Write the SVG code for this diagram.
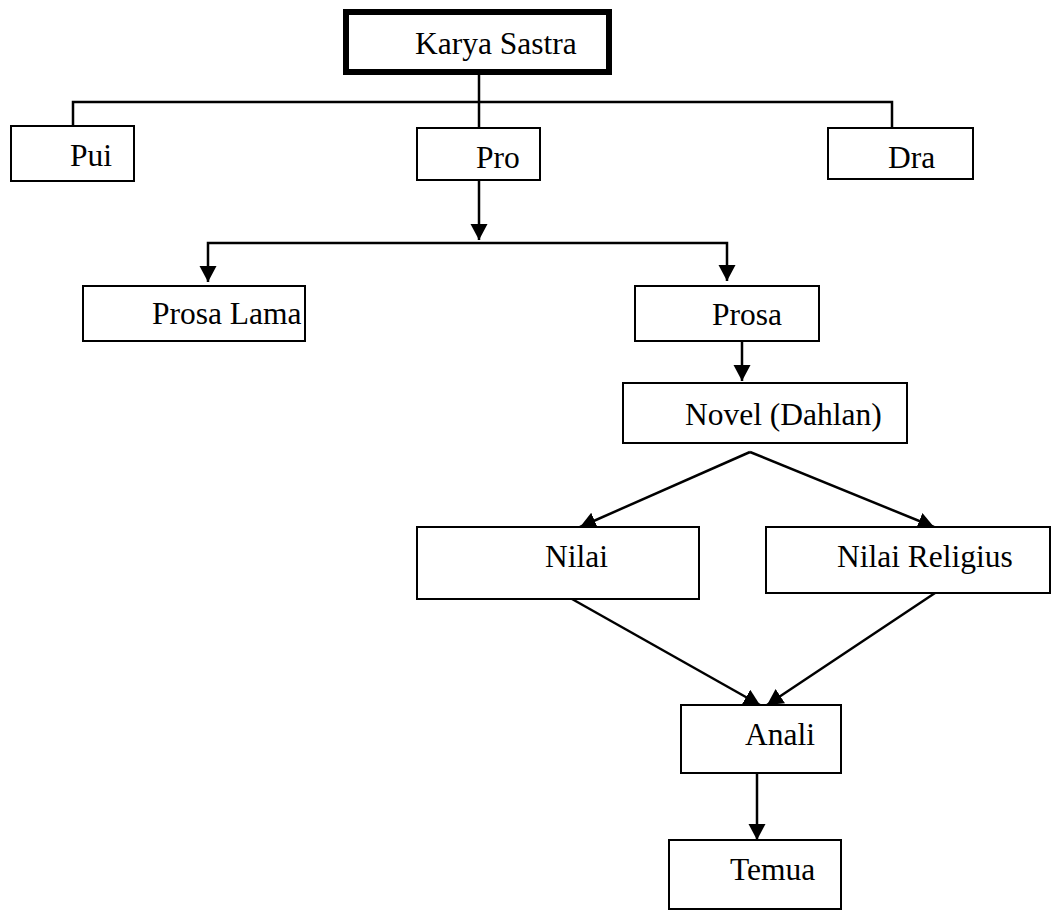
<svg xmlns="http://www.w3.org/2000/svg" width="1054" height="911" viewBox="0 0 1054 911">
<style>
.box{fill:#fff;stroke:#000;stroke-width:2}
.main{fill:#fff;stroke:#000;stroke-width:6}
.lbl{font-family:"Liberation Serif","Times New Roman",serif;font-size:31.5px;fill:#000}
.ln{fill:none;stroke:#000;stroke-width:2.5}
</style>
<defs>
<marker id="ah" markerUnits="userSpaceOnUse" markerWidth="18" markerHeight="18" refX="16" refY="8.5" orient="auto">
<path d="M0,0 L16,8.5 L0,17 Z" fill="#000"/>
</marker>
</defs>
<rect width="1054" height="911" fill="#fff"/>
<g id="connectors">
<line class="ln" x1="479" y1="74" x2="479" y2="128"/>
<polyline class="ln" points="73,126 73,102 892,102 892,128"/>
<line class="ln" x1="479" y1="180" x2="479" y2="240" marker-end="url(#ah)"/>
<polyline class="ln" points="479,243 208,243 208,282" marker-end="url(#ah)"/>
<polyline class="ln" points="479,243 727,243 727,281" marker-end="url(#ah)"/>
<line class="ln" x1="742" y1="341" x2="742" y2="381" marker-end="url(#ah)"/>
<polyline class="ln" points="750,452 580,527" marker-end="url(#ah)"/>
<polyline class="ln" points="750,452 934,527" marker-end="url(#ah)"/>
<line class="ln" x1="572" y1="599" x2="760" y2="705" marker-end="url(#ah)"/>
<line class="ln" x1="935" y1="593" x2="767" y2="705" marker-end="url(#ah)"/>
<line class="ln" x1="757" y1="773" x2="757" y2="840" marker-end="url(#ah)"/>
</g>
<g id="karya-sastra">
<rect class="main" x="346" y="12" width="263" height="60"/>
<text class="lbl" x="415" y="54">Karya Sastra</text>
</g>
<g id="pui">
<rect class="box" x="11" y="126" width="123" height="55"/>
<text class="lbl" x="70" y="166">Pui</text>
</g>
<g id="pro">
<rect class="box" x="417" y="128" width="123" height="52"/>
<text class="lbl" x="476" y="168">Pro</text>
</g>
<g id="dra">
<rect class="box" x="828" y="128" width="145" height="51"/>
<text class="lbl" x="888" y="168">Dra</text>
</g>
<g id="prosa-lama">
<rect class="box" x="83" y="286" width="222" height="55"/>
<text class="lbl" x="152" y="324">Prosa Lama</text>
</g>
<g id="prosa">
<rect class="box" x="635" y="286" width="184" height="55"/>
<text class="lbl" x="712" y="325">Prosa</text>
</g>
<g id="novel">
<rect class="box" x="623" y="383" width="284" height="60"/>
<text class="lbl" x="685" y="425">Novel (Dahlan)</text>
</g>
<g id="nilai">
<rect class="box" x="417" y="527" width="282" height="72"/>
<text class="lbl" x="545" y="567">Nilai</text>
</g>
<g id="nilai-religius">
<rect class="box" x="766" y="527" width="284" height="66"/>
<text class="lbl" x="837" y="567">Nilai Religius</text>
</g>
<g id="anali">
<rect class="box" x="681" y="705" width="160" height="68"/>
<text class="lbl" x="745" y="745">Anali</text>
</g>
<g id="temua">
<rect class="box" x="669" y="840" width="172" height="69"/>
<text class="lbl" x="730" y="880">Temua</text>
</g>
</svg>
